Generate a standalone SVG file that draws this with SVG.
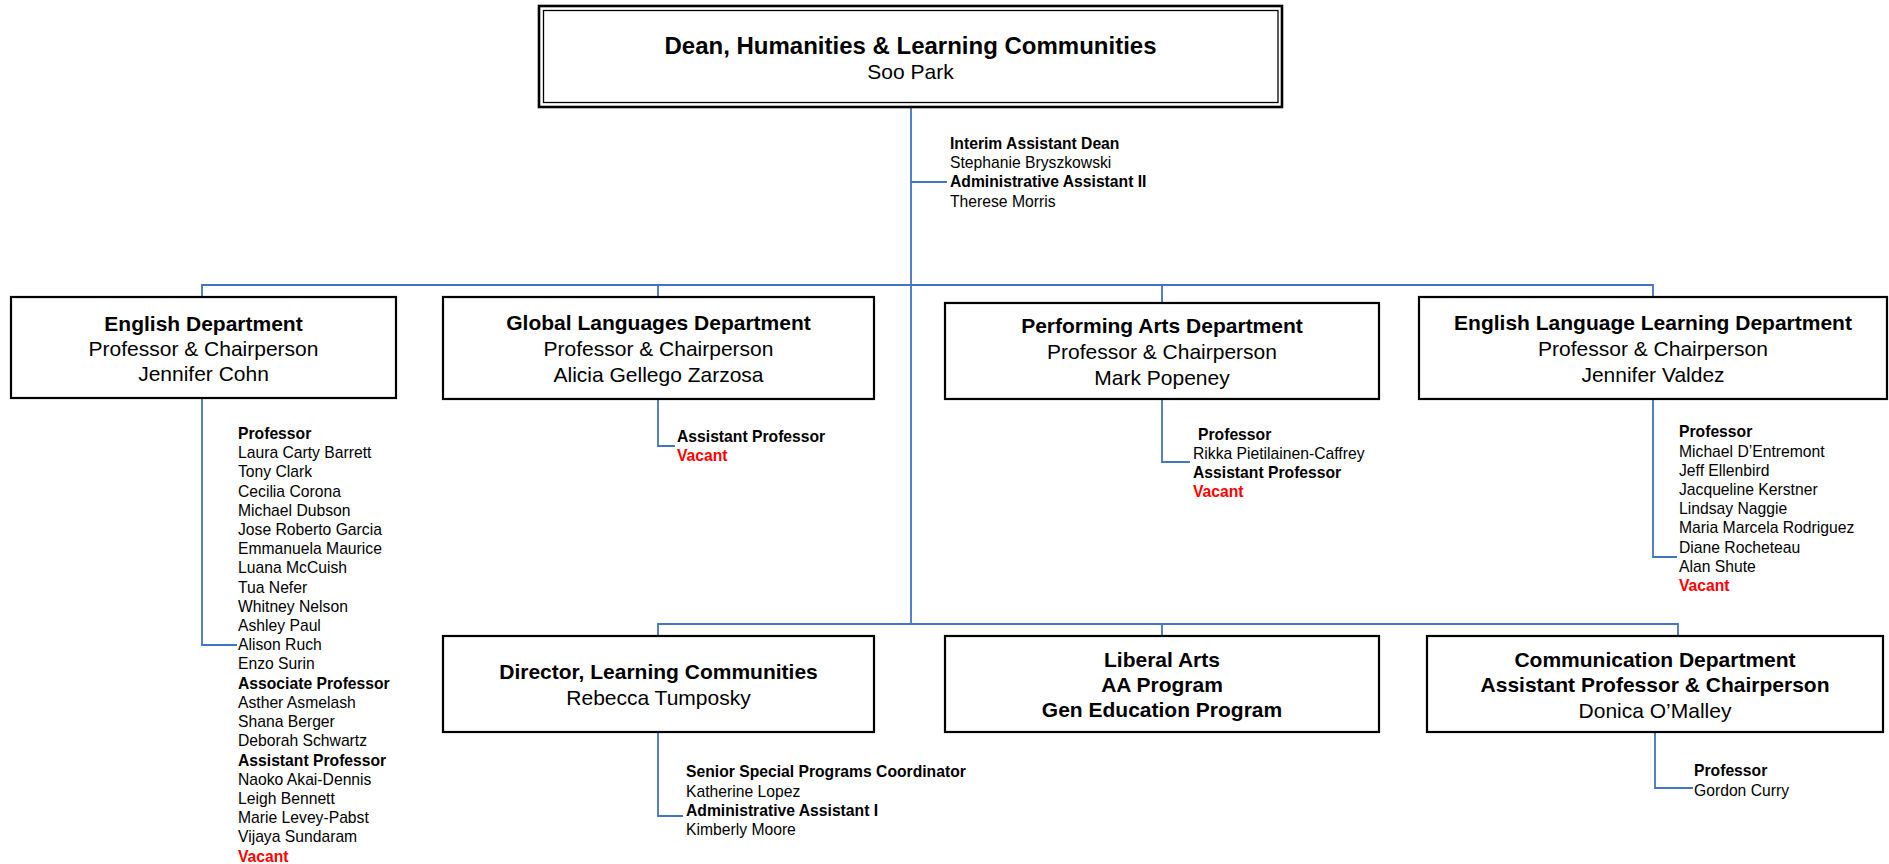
<svg xmlns="http://www.w3.org/2000/svg" width="1889" height="864" viewBox="0 0 1889 864">
<style>
text{font-family:"Liberation Sans",Arial,sans-serif;fill:#000}
.box{fill:#fff;stroke:#000;stroke-width:2.2}
.bt{font-size:21px;text-anchor:middle}
.b{font-weight:bold}
.ls{font-size:15.7px}
.vac{fill:#ff0000;font-weight:bold}
.con{fill:none;stroke:#4472c4;stroke-width:1.8}
</style>
<rect width="1889" height="864" fill="#fff"/>
<g id="connectors">
<path class="con" d="M911 107V624M911 182H947"/>
<path class="con" d="M202 297V285H1653V297M658 285V297M1162 285V303"/>
<path class="con" d="M658 636V624H1678V636M1162 624V636"/>
<path class="con" d="M202 398V645H237"/>
<path class="con" d="M658 399V446H675"/>
<path class="con" d="M1162 399V462H1190"/>
<path class="con" d="M1653 399V557H1677"/>
<path class="con" d="M658 732V816H683"/>
<path class="con" d="M1655 732V788H1693"/>
</g>
<g id="dean">
<rect x="539" y="6" width="743" height="101" fill="#fff" stroke="#000" stroke-width="2.6"/>
<rect x="543.5" y="10.5" width="734.5" height="92" fill="none" stroke="#000" stroke-width="1.3"/>
<text x="910.5" y="53.6" class="b" font-size="24" text-anchor="middle">Dean, Humanities &amp; Learning Communities</text>
<text x="910.5" y="79.2" class="bt">Soo Park</text>
</g>
<g id="dean-staff" class="ls">
<text x="950" y="149" class="b">Interim Assistant Dean</text>
<text x="950" y="168.2">Stephanie Bryszkowski</text>
<text x="950" y="187.4" class="b">Administrative Assistant II</text>
<text x="950" y="206.6">Therese Morris</text>
</g>
<g id="english">
<rect class="box" x="11" y="297" width="385" height="101"/>
<text x="203.5" y="330.5" class="bt b">English Department</text>
<text x="203.5" y="355.5" class="bt">Professor &amp; Chairperson</text>
<text x="203.5" y="381" class="bt">Jennifer Cohn</text>
</g>
<g id="english-staff" class="ls">
<text x="238" y="438.9" class="b">Professor</text>
<text x="238" y="458.1">Laura Carty Barrett</text>
<text x="238" y="477.3">Tony Clark</text>
<text x="238" y="496.5">Cecilia Corona</text>
<text x="238" y="515.7">Michael Dubson</text>
<text x="238" y="535">Jose Roberto Garcia</text>
<text x="238" y="554.2">Emmanuela Maurice</text>
<text x="238" y="573.4">Luana McCuish</text>
<text x="238" y="592.6">Tua Nefer</text>
<text x="238" y="611.8">Whitney Nelson</text>
<text x="238" y="631">Ashley Paul</text>
<text x="238" y="650.2">Alison Ruch</text>
<text x="238" y="669.4">Enzo Surin</text>
<text x="238" y="688.6" class="b">Associate Professor</text>
<text x="238" y="707.8">Asther Asmelash</text>
<text x="238" y="727">Shana Berger</text>
<text x="238" y="746.3">Deborah Schwartz</text>
<text x="238" y="765.5" class="b">Assistant Professor</text>
<text x="238" y="784.7">Naoko Akai-Dennis</text>
<text x="238" y="803.9">Leigh Bennett</text>
<text x="238" y="823.1">Marie Levey-Pabst</text>
<text x="238" y="842.3">Vijaya Sundaram</text>
<text x="238" y="861.5" class="vac">Vacant</text>
</g>
<g id="global">
<rect class="box" x="443" y="297" width="431" height="102"/>
<text x="658.5" y="330" class="bt b">Global Languages Department</text>
<text x="658.5" y="356" class="bt">Professor &amp; Chairperson</text>
<text x="658.5" y="382" class="bt">Alicia Gellego Zarzosa</text>
</g>
<g id="global-staff" class="ls">
<text x="677" y="442.3" class="b">Assistant Professor</text>
<text x="677" y="461.3" class="vac">Vacant</text>
</g>
<g id="performing">
<rect class="box" x="945" y="303" width="434" height="96"/>
<text x="1162" y="332.5" class="bt b">Performing Arts Department</text>
<text x="1162" y="358.5" class="bt">Professor &amp; Chairperson</text>
<text x="1162" y="384.5" class="bt">Mark Popeney</text>
</g>
<g id="performing-staff" class="ls">
<text x="1198" y="439.5" class="b">Professor</text>
<text x="1193" y="458.7">Rikka Pietilainen-Caffrey</text>
<text x="1193" y="477.9" class="b">Assistant Professor</text>
<text x="1193" y="497.1" class="vac">Vacant</text>
</g>
<g id="ell">
<rect class="box" x="1419" y="297" width="468" height="102"/>
<text x="1653" y="330" class="bt b">English Language Learning Department</text>
<text x="1653" y="356" class="bt">Professor &amp; Chairperson</text>
<text x="1653" y="382" class="bt">Jennifer Valdez</text>
</g>
<g id="ell-staff" class="ls">
<text x="1679" y="437.3" class="b">Professor</text>
<text x="1679" y="456.5">Michael D’Entremont</text>
<text x="1679" y="475.7">Jeff Ellenbird</text>
<text x="1679" y="494.9">Jacqueline Kerstner</text>
<text x="1679" y="514.1">Lindsay Naggie</text>
<text x="1679" y="533.3">Maria Marcela Rodriguez</text>
<text x="1679" y="552.5">Diane Rocheteau</text>
<text x="1679" y="571.7">Alan Shute</text>
<text x="1679" y="590.9" class="vac">Vacant</text>
</g>
<g id="director">
<rect class="box" x="443" y="636" width="431" height="96"/>
<text x="658.5" y="679.2" class="bt b">Director, Learning Communities</text>
<text x="658.5" y="705.2" class="bt">Rebecca Tumposky</text>
</g>
<g id="director-staff" class="ls">
<text x="686" y="777.3" class="b">Senior Special Programs Coordinator</text>
<text x="686" y="796.5">Katherine Lopez</text>
<text x="686" y="815.7" class="b">Administrative Assistant I</text>
<text x="686" y="834.9">Kimberly Moore</text>
</g>
<g id="liberal-arts">
<rect class="box" x="945" y="636" width="434" height="96"/>
<text x="1162" y="666.8" class="bt b">Liberal Arts</text>
<text x="1162" y="691.8" class="bt b">AA Program</text>
<text x="1162" y="716.8" class="bt b">Gen Education Program</text>
</g>
<g id="communication">
<rect class="box" x="1427" y="636" width="456" height="96"/>
<text x="1655" y="666.8" class="bt b">Communication Department</text>
<text x="1655" y="691.8" class="bt b">Assistant Professor &amp; Chairperson</text>
<text x="1655" y="717.5" class="bt">Donica O’Malley</text>
</g>
<g id="communication-staff" class="ls">
<text x="1694" y="776.3" class="b">Professor</text>
<text x="1694" y="795.5">Gordon Curry</text>
</g>
</svg>
